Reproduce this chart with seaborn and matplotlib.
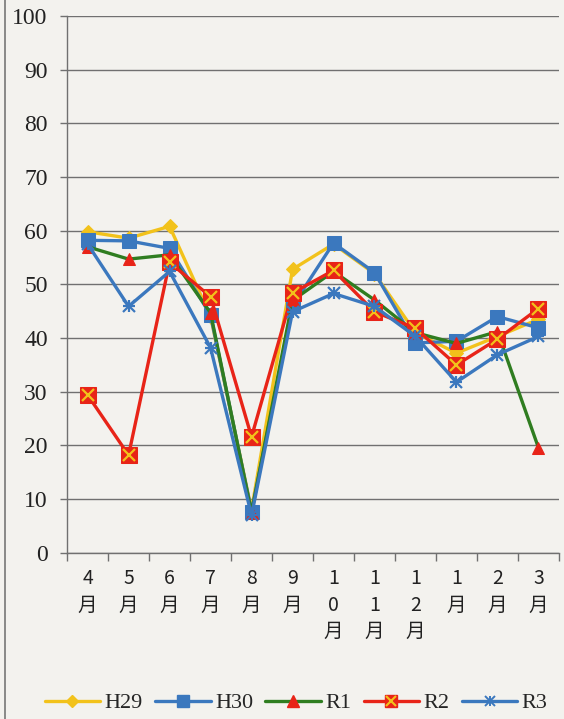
import numpy as np
import matplotlib
matplotlib.use("Agg")
import matplotlib.pyplot as plt
import seaborn as sns
from matplotlib.lines import Line2D
from matplotlib.legend_handler import HandlerTuple

months = ["4\n月", "5\n月", "6\n月", "7\n月", "8\n月", "9\n月",
          "1\n0\n月", "1\n1\n月", "1\n2\n月", "1\n月", "2\n月", "3\n月"]
h29 = [59.8, 58.6, 60.8, 44.0, 8.0, 52.8, 57.5, 52.0, 41.0, 37.2, 40.3, 43.5]
h30 = [58.2, 58.1, 56.7, 44.3, 7.7, 46.0, 57.7, 52.2, 39.1, 39.4, 44.0, 41.9]
r1 = [57.0, 54.7, 55.5, 44.7, 7.5, 47.0, 52.4, 47.1, 41.0, 39.0, 41.2, 19.6]
r2 = [29.4, 18.2, 54.1, 47.7, 21.6, 48.4, 52.6, 44.9, 41.8, 35.0, 39.8, 45.5]
r3 = [57.5, 45.9, 52.4, 38.2, 7.0, 44.9, 48.3, 45.9, 40.3, 31.8, 36.9, 40.3]
y_ticks = list(range(0, 101, 10))

bg = "#f3f2ee"
yellow = "#f2c21b"
blue = "#3b78be"
green = "#2f7d20"
red = "#e82418"
gridc = "#707070"

sns.set_style("white")
plt.rcParams["font.family"] = ["Noto Sans CJK JP", "DejaVu Sans"]

fig = plt.figure(figsize=(5.64, 7.19), dpi=100, facecolor=bg)
ax = fig.add_axes([0.119, 0.231, 0.872, 0.747])
ax.set_facecolor(bg)

x = np.arange(len(months))
lw = 2.4
sns.lineplot(x=x, y=h29, color=yellow, lw=lw, marker="D", markersize=7,
             markeredgecolor=yellow, ax=ax)
sns.lineplot(x=x, y=h30, color=blue, lw=lw, marker="s", markersize=10,
             markeredgecolor=blue, ax=ax)
sns.lineplot(x=x, y=r1, color=green, lw=lw, marker="^", markersize=9,
             markerfacecolor=red, markeredgecolor=red, ax=ax)
sns.lineplot(x=x, y=r2, color=red, lw=lw, marker="s", markersize=11,
             markeredgecolor=red, ax=ax)
ax.plot(x, r2, ls="none", marker="x", markersize=8, mew=1.6, color=yellow)
sns.lineplot(x=x, y=r3, color=blue, lw=lw, marker="x", markersize=9,
             mew=1.6, markeredgecolor=blue, ax=ax)
ax.plot(x, r3, ls="none", marker="+", markersize=9, mew=1.6, color=blue)

ax.set_xlim(-0.5, len(months) - 0.5)
ax.set_ylim(0, 100)
ax.set_yticks(y_ticks)
ax.set_yticklabels([str(v) for v in y_ticks], family="Liberation Serif",
                   fontsize=17, color="#222")
ax.yaxis.grid(True, color=gridc, lw=1.0)
ax.set_axisbelow(True)
ax.tick_params(axis="y", length=5, width=1.0, color=gridc, pad=9, left=True)

ax.set_xticks(x)
ax.set_xticklabels(months, fontsize=14, color="#222", linespacing=1.35,
                   va="top")
ax.set_xticks(np.arange(-0.5, len(months), 1), minor=True)
ax.tick_params(axis="x", which="major", length=0, pad=11)
ax.tick_params(axis="x", which="minor", length=6, width=1.0, color=gridc,
               bottom=True)

for side in ["top", "right"]:
    ax.spines[side].set_visible(False)
for side in ["left", "bottom"]:
    ax.spines[side].set_color(gridc)
    ax.spines[side].set_linewidth(1.0)
ax.set_xlabel("")
ax.set_ylabel("")

handles = [
    Line2D([], [], color=yellow, lw=lw, marker="D", markersize=6),
    Line2D([], [], color=blue, lw=lw, marker="s", markersize=8),
    Line2D([], [], color=green, lw=lw, marker="^", markersize=8,
           markerfacecolor=red, markeredgecolor=red),
    (Line2D([], [], color=red, lw=lw, marker="s", markersize=9),
     Line2D([], [], ls="none", marker="x", markersize=7, mew=1.5, color=yellow)),
    (Line2D([], [], color=blue, lw=lw, marker="x", markersize=7, mew=1.4),
     Line2D([], [], ls="none", marker="+", markersize=7, mew=1.4, color=blue)),
]
fig.legend(handles, ["H29", "H30", "R1", "R2", "R3"], ncol=5, frameon=False,
           loc="center", bbox_to_anchor=(0.525, 0.022),
           prop={"family": "Liberation Serif", "size": 16},
           handler_map={tuple: HandlerTuple(ndivide=1, pad=0)},
           handlelength=2.5, handletextpad=0.2, columnspacing=0.55,
           borderpad=0.1, borderaxespad=0)

fig.add_artist(Line2D([0.008, 0.008], [0, 1], color="#777", lw=1.2))

fig.savefig("out.png", dpi=100, facecolor=bg)
